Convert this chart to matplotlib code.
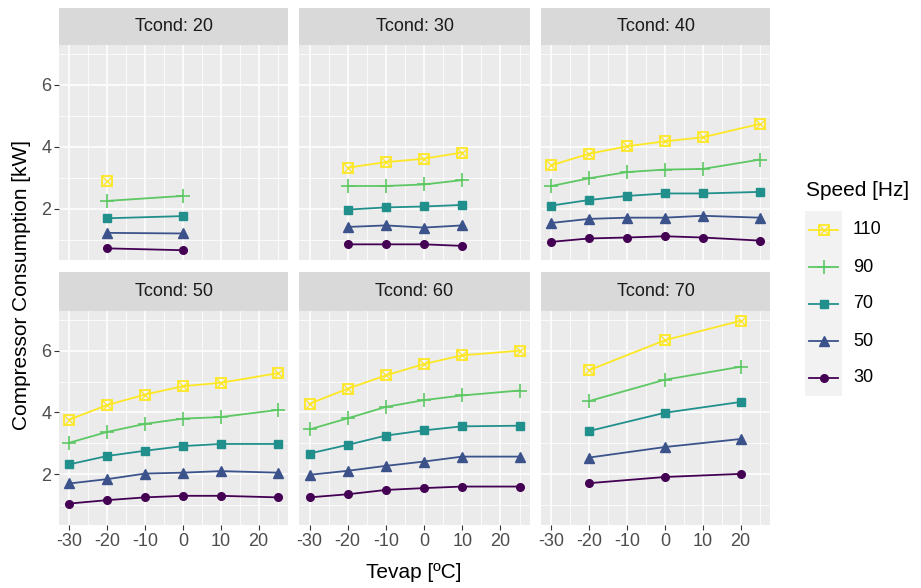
import matplotlib.pyplot as plt
import numpy as np
from matplotlib.patches import Rectangle

# ---- data ----
tconds = [20, 30, 40, 50, 60, 70]
speeds = [110, 90, 70, 50, 30]
colors = ["#FDE725", "#5DC863", "#21908C", "#3B528B", "#440154"]

tevap_t20 = [-20, 0]
tevap_t30 = [-20, -10, 0, 10]
tevap_t40 = [-30, -20, -10, 0, 10, 25]
tevap_t50 = [-30, -20, -10, 0, 10, 25]
tevap_t60 = [-30, -20, -10, 0, 10, 25]
tevap_t70 = [-20, 0, 20]

# rows follow `speeds`: 110, 90, 70, 50, 30 Hz
power_t20 = [[2.90, np.nan], [2.26, 2.42], [1.70, 1.77], [1.23, 1.21], [0.73, 0.67]]
power_t30 = [[3.33, 3.51, 3.62, 3.82],
             [2.74, 2.74, 2.79, 2.93],
             [1.98, 2.05, 2.08, 2.13],
             [1.42, 1.47, 1.40, 1.47],
             [0.86, 0.86, 0.86, 0.81]]
power_t40 = [[3.41, 3.78, 4.02, 4.18, 4.31, 4.74],
             [2.74, 2.99, 3.19, 3.27, 3.29, 3.59],
             [2.11, 2.29, 2.42, 2.50, 2.50, 2.55],
             [1.55, 1.68, 1.72, 1.72, 1.78, 1.72],
             [0.94, 1.05, 1.08, 1.12, 1.08, 0.98]]
power_t50 = [[3.77, 4.24, 4.58, 4.85, 4.96, 5.27],
             [3.02, 3.37, 3.63, 3.80, 3.85, 4.08],
             [2.32, 2.59, 2.76, 2.91, 2.98, 2.98],
             [1.70, 1.84, 2.02, 2.05, 2.10, 2.05],
             [1.05, 1.16, 1.25, 1.30, 1.30, 1.25]]
power_t60 = [[4.28, 4.77, 5.20, 5.57, 5.85, 6.00],
             [3.45, 3.81, 4.18, 4.40, 4.55, 4.71],
             [2.67, 2.95, 3.25, 3.42, 3.55, 3.57],
             [1.98, 2.11, 2.27, 2.41, 2.57, 2.57],
             [1.25, 1.35, 1.49, 1.55, 1.60, 1.60]]
power_t70 = [[5.37, 6.34, 6.97],
             [4.37, 5.06, 5.48],
             [3.40, 3.99, 4.34],
             [2.54, 2.88, 3.14],
             [1.71, 1.91, 2.01]]

panels = [
    (20, tevap_t20, power_t20),
    (30, tevap_t30, power_t30),
    (40, tevap_t40, power_t40),
    (50, tevap_t50, power_t50),
    (60, tevap_t60, power_t60),
    (70, tevap_t70, power_t70),
]

W, H = 921, 588
plt.rcParams["font.family"] = ["Liberation Sans", "DejaVu Sans"]


def px_box(x0, y0, x1, y1):
    # pixel box (top-left origin) -> figure fraction rect
    return [x0 / W, 1 - y1 / H, (x1 - x0) / W, (y1 - y0) / H]


def draw_markers(ax, x, y, i, zorder=4):
    color = colors[i]
    s = speeds[i]
    if s == 110:
        ax.plot(x, y, ls="none", marker="s", ms=7, mfc="none", mec=color, mew=1.3, zorder=zorder)
        ax.plot(x, y, ls="none", marker="x", ms=7, mec=color, mew=0.9, zorder=zorder)
    elif s == 90:
        ax.plot(x, y, ls="none", marker="+", ms=10, mec=color, mew=1.2, zorder=zorder)
    elif s == 70:
        ax.plot(x, y, ls="none", marker="s", ms=6, mfc=color, mec=color, zorder=zorder)
    elif s == 50:
        ax.plot(x, y, ls="none", marker="^", ms=7.5, mfc=color, mec=color, zorder=zorder)
    else:
        ax.plot(x, y, ls="none", marker="o", ms=5.5, mfc=color, mec=color, zorder=zorder)


all_vals = np.concatenate([np.ravel(np.asarray(p[2], dtype=float)) for p in panels])
ymin, ymax = np.nanmin(all_vals), np.nanmax(all_vals)
ypad = 0.05 * (ymax - ymin)
all_x = np.concatenate([p[1] for p in panels])
xmin, xmax = all_x.min(), all_x.max()
xpad = 0.05 * (xmax - xmin)

fig = plt.figure(figsize=(W / 100, H / 100), dpi=100)

col_x = [(59, 288), (299, 530), (541, 770)]
row_y = [(45, 260), (311, 525)]
strip_y = [(8, 45), (272, 311)]

for k, (tc, xs, ps) in enumerate(panels):
    r, c = divmod(k, 3)
    x0, x1 = col_x[c]
    ax = fig.add_axes(px_box(x0, row_y[r][0], x1, row_y[r][1]))
    ax.set_facecolor("#EBEBEB")
    for sp in ax.spines.values():
        sp.set_visible(False)
    ax.set_xlim(xmin - xpad, xmax + xpad)
    ax.set_ylim(ymin - ypad, ymax + ypad)
    ax.set_xticks([-30, -20, -10, 0, 10, 20])
    ax.set_xticks([-25, -15, -5, 5, 15, 25], minor=True)
    ax.set_yticks([2, 4, 6])
    ax.set_yticks([1, 3, 5, 7], minor=True)
    ax.grid(which="major", color="white", lw=1.1, zorder=0)
    ax.grid(which="minor", color="white", lw=0.55, zorder=0)
    ax.set_axisbelow(True)
    ax.tick_params(which="minor", length=0)
    ax.tick_params(which="major", length=3.5, width=0.8, color="#333333",
                   labelcolor="#4D4D4D", labelsize=13, pad=2)
    if c != 0:
        ax.tick_params(axis="y", left=False, labelleft=False)
    if r != 1:
        ax.tick_params(axis="x", bottom=False, labelbottom=False)
    ax.set_xticklabels(["-30", "-20", "-10", "0", "10", "20"])
    for i in range(len(speeds) - 1, -1, -1):
        y = np.asarray(ps[i], dtype=float)
        ax.plot(xs, y, color=colors[i], lw=1.3, zorder=3)
        draw_markers(ax, xs, y, i)

    sax = fig.add_axes(px_box(x0, strip_y[r][0], x1, strip_y[r][1]))
    sax.set_facecolor("#D9D9D9")
    sax.set_xticks([])
    sax.set_yticks([])
    for sp in sax.spines.values():
        sp.set_visible(False)
    sax.text(0.5, 0.5, f"Tcond: {tc}", ha="center", va="center",
             fontsize=13, color="#1A1A1A", transform=sax.transAxes)

fig.text(414 / W, 1 - 573 / H, "Tevap [ºC]", ha="center", va="center", fontsize=15, color="black")
fig.text(22 / W, 1 - 285 / H, "Compressor Consumption [kW]", ha="center", va="center",
         rotation=90, fontsize=15, color="black")

# legend drawn in pixel coordinates
lax = fig.add_axes([0, 0, 1, 1], facecolor="none")
lax.set_xlim(0, W)
lax.set_ylim(H, 0)
lax.axis("off")
lax.text(806, 191, "Speed [Hz]", ha="left", va="center", fontsize=15, color="black")
lax.add_patch(Rectangle((805, 211), 37, 185, facecolor="#F2F2F2", edgecolor="none", zorder=1))
for i, s in enumerate(speeds):
    yc = 230 + 37 * i
    lax.plot([809, 838], [yc, yc], color=colors[i], lw=1.3, zorder=3)
    draw_markers(lax, [823.5], [yc], i)
    lax.text(853, yc, str(s), ha="left", va="center", fontsize=13, color="black")

fig.savefig("out.png", dpi=100)
